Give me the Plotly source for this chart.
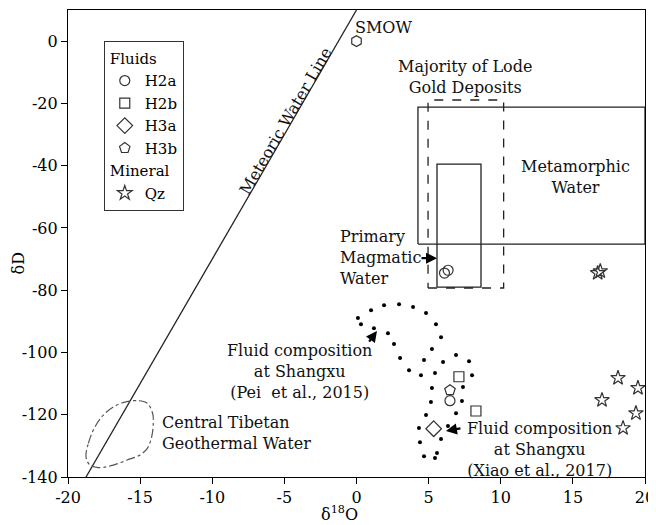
import plotly.graph_objects as go

FONT = "DejaVu Serif"

# ---------------- data ----------------
h2a_x = [6.1, 6.35, 6.48]
h2a_y = [-74.5, -73.6, -115.5]
h2b_x = [7.1, 8.28]
h2b_y = [-107.8, -118.8]
h3a_x = [5.35]
h3a_y = [-124.5]
h3b_x = [6.48]
h3b_y = [-112.1]
qz_x = [16.72, 16.9, 18.13, 19.51, 17.02, 19.37, 18.48]
qz_y = [-74.5, -73.9, -108.2, -111.4, -115.3, -119.5, -124.3]
smow_x = [0]
smow_y = [0]

# dotted outlines (Pei et al., 2015 and Xiao et al., 2017)
pei_x = [0.10, 0.31, 1.01, 1.21, 1.91, 2.18, 2.95, 2.60, 3.92, 4.82, 3.02, 5.51,
         3.64, 5.86, 4.47, 5.23, 4.68, 5.44, 6.00, 6.90, 7.80, 8.01]
pei_y = [-88.95, -90.9, -86.4, -92.2, -84.8, -93.8, -84.5, -97.3, -85.4, -87.3,
         -101.8, -90.9, -105.7, -95.1, -107.3, -98.9, -102.4, -106.6, -103.1,
         -100.8, -102.8, -107.3]
xiao_x = [5.23, 7.38, 5.16, 7.31, 4.82, 6.90, 4.33, 6.34, 5.86, 4.40, 4.68, 5.58, 5.44]
xiao_y = [-111.4, -111.1, -115.9, -115.6, -120.1, -119.5, -124.3, -123.6, -127.8,
          -128.8, -133.3, -132.3, -133.9]

# Central Tibetan geothermal water outline
tib_x = [-18.75, -18.59, -18.13, -17.55, -16.74, -15.93, -15.0, -14.50, -14.13,
         -14.09, -14.20, -14.50, -15.0, -15.93, -16.86, -17.55, -18.01, -18.48, -18.75]
tib_y = [-133.5, -129.2, -123.9, -120.1, -117.2, -115.8, -115.5, -116.3, -119.6,
         -122.8, -127.1, -130.8, -132.9, -134.6, -136.2, -136.9, -136.9, -136.2, -133.5]

# Meteoric water line end points
mwl_x = [-18.75, 0.0]
mwl_y = [-140.0, 10.0]

# fields (x0, x1, y0, y1)
metamorphic_box = [4.26, 20.0, -65.2, -21.2]
magmatic_box = [5.58, 8.63, -79.0, -39.5]
lode_gold_box = [4.96, 10.2, -79.3, -18.9]

x_ticks = [-20, -15, -10, -5, 0, 5, 10, 15, 20]
x_tick_text = ["-20", "-15", "-10", "-5", "0", "5", "10", "15", "20"]
y_ticks = [-140, -120, -100, -80, -60, -40, -20, 0]
y_tick_text = ["-140", "-120", "-100", "-80", "-60", "-40", "-20", "0"]

# ---------------- figure ----------------
fig = go.Figure()
MC = "#333333"

def box_trace(b, dash):
    x0, x1, y0, y1 = b
    return go.Scatter(x=[x0, x1, x1, x0, x0], y=[y0, y0, y1, y1, y0], mode="lines",
                      line=dict(color="#222222", width=1.3, dash=dash),
                      showlegend=False, hoverinfo="skip")

fig.add_trace(box_trace(metamorphic_box, "solid"))
fig.add_trace(box_trace(magmatic_box, "solid"))
fig.add_trace(box_trace(lode_gold_box, "dash"))

fig.add_trace(go.Scatter(x=mwl_x, y=mwl_y, mode="lines",
                         line=dict(color="#222222", width=1.3),
                         showlegend=False, hoverinfo="skip"))
fig.add_trace(go.Scatter(x=tib_x, y=tib_y, mode="lines",
                         line=dict(color="#555555", width=1.2, dash="dashdot", shape="spline"),
                         showlegend=False, hoverinfo="skip"))
fig.add_trace(go.Scatter(x=pei_x, y=pei_y, mode="markers",
                         marker=dict(color="black", size=4),
                         showlegend=False, hoverinfo="skip"))
fig.add_trace(go.Scatter(x=xiao_x, y=xiao_y, mode="markers",
                         marker=dict(color="black", size=4),
                         showlegend=False, hoverinfo="skip"))
fig.add_trace(go.Scatter(x=smow_x, y=smow_y, mode="markers",
                         marker=dict(symbol="hexagon-open", size=11, color=MC,
                                     line=dict(width=1.2, color=MC)),
                         showlegend=False, hoverinfo="skip"))

def pts(x, y, sym, name, group, gtitle, size):
    return go.Scatter(x=x, y=y, mode="markers", name=name,
                      marker=dict(symbol=sym, size=size, color=MC,
                                  line=dict(width=1.2, color=MC)),
                      legendgroup=group,
                      legendgrouptitle=dict(text=gtitle, font=dict(family=FONT, size=15, color="black")))

fig.add_trace(pts(h2a_x, h2a_y, "circle-open", "H2a", "fluids", "Fluids", 10))
fig.add_trace(pts(h2b_x, h2b_y, "square-open", "H2b", "fluids", "Fluids", 10))
fig.add_trace(pts(h3a_x, h3a_y, "diamond-open", "H3a", "fluids", "Fluids", 12))
fig.add_trace(pts(h3b_x, h3b_y, "pentagon-open", "H3b", "fluids", "Fluids", 11))
fig.add_trace(pts(qz_x, qz_y, "star-open", "Qz", "mineral", "Mineral", 11))

def txt(x, y, t, xanchor="center", align="center", angle=0):
    return dict(x=x, y=y, xref="x", yref="y", text=t, showarrow=False,
                xanchor=xanchor, yanchor="middle", align=align, textangle=angle,
                font=dict(family=FONT, size=16, color="#111111"))

ann = [
    txt(-0.24, 4.5, "SMOW", xanchor="left"),
    txt(7.52, -11.6, "Majority of Lode<br>Gold Deposits"),
    txt(15.15, -43.7, "Metamorphic<br>Water"),
    txt(-1.28, -69.4, "Primary<br>Magmatic<br>Water", xanchor="left", align="left"),
    txt(-3.92, -106.0, "Fluid composition<br>at Shangxu<br>(Pei  et al., 2015)"),
    txt(-13.62, -125.9, "Central Tibetan<br>Geothermal Water", xanchor="left", align="left"),
    txt(12.72, -131.3, "Fluid composition<br>at Shangxu<br>(Xiao et al., 2017)"),
    txt(-4.95, -25.7, "Meteoric Water Line", angle=-59.9),
]

def arrow(x, y, ax, ay):
    return dict(x=x, y=y, ax=ax, ay=ay, xref="x", yref="y", axref="x", ayref="y",
                text="", showarrow=True, arrowhead=2, arrowsize=1, arrowwidth=2.2,
                arrowcolor="black")

ann += [
    arrow(5.58, -69.7, 4.40, -69.7),
    arrow(1.42, -93.1, 0.80, -97.0),
    arrow(6.20, -125.2, 7.31, -124.3),
]

ann.append(dict(x=0.471, y=-0.079, xref="paper", yref="paper", text="δ<sup>18</sup>O",
                showarrow=False, xanchor="center", yanchor="middle",
                font=dict(family=FONT, size=16, color="black")))
ann.append(dict(x=-0.086, y=0.458, xref="paper", yref="paper", text="δD",
                showarrow=False, xanchor="center", yanchor="middle", textangle=-90,
                font=dict(family=FONT, size=16, color="black")))

axis_common = dict(showgrid=False, zeroline=False, showline=True, linecolor="black",
                   linewidth=1.3, mirror=True, ticks="outside", ticklen=6,
                   tickcolor="black", tickwidth=1.3,
                   tickfont=dict(family=FONT, size=16, color="black"))

# the page body adds an 8 px offset; the figure is sized to compensate
fig.update_layout(
    width=648, height=517,
    margin=dict(l=60, r=11, t=2, b=48),
    paper_bgcolor="white", plot_bgcolor="white",
    xaxis=dict(range=[-20, 20], tickvals=x_ticks, ticktext=x_tick_text, **axis_common),
    yaxis=dict(range=[-140, 10], tickvals=y_ticks, ticktext=y_tick_text, **axis_common),
    annotations=ann,
    legend=dict(x=0.062, y=0.934, xanchor="left", yanchor="top",
                bordercolor="#333333", borderwidth=1, bgcolor="white",
                font=dict(family=FONT, size=15, color="black"),
                tracegroupgap=0, itemwidth=30),
    showlegend=True,
)

fig.write_html("out.html")
